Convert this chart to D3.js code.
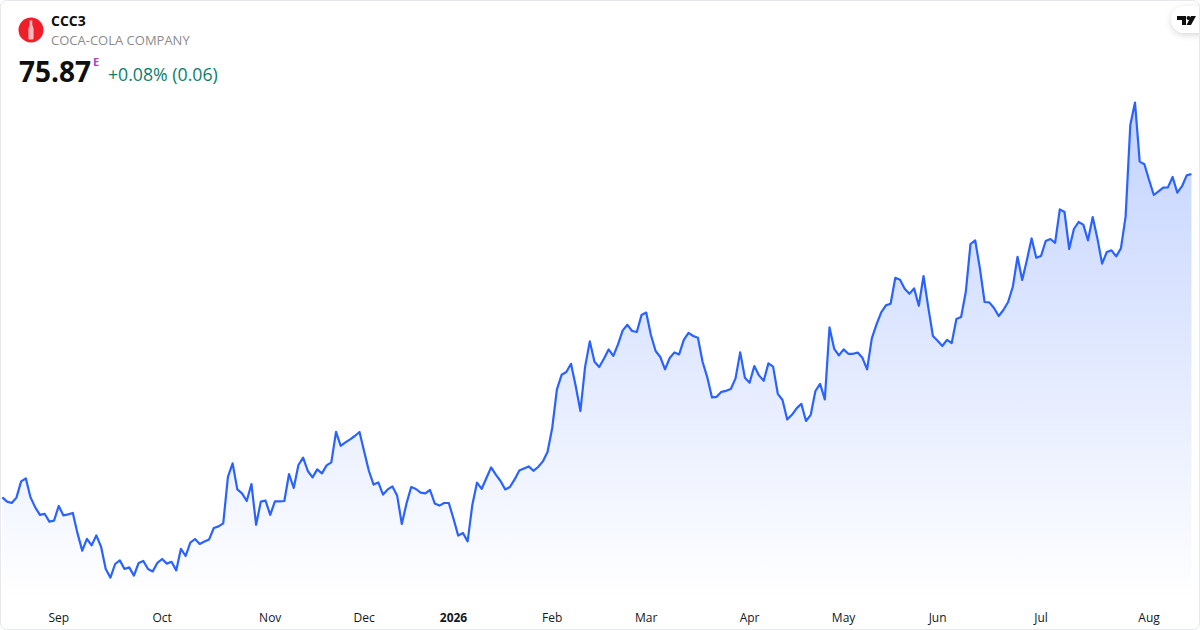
<!DOCTYPE html>
<html>
<head>
<meta charset="utf-8">
<style>
html, body { margin: 0; padding: 0; background: #fff; }
svg { display: block; }
text { font-family: "Open Sans", "Noto Sans", sans-serif; }
</style>
<script src="https://cdn.jsdelivr.net/npm/d3@7"></script>
</head>
<body>
<div id="chart"></div>
<script>
// closing prices, one per session
var prices = [
  59.7, 59.49, 59.42, 59.69, 60.5, 60.65, 59.7, 59.2, 58.83, 58.88, 58.49, 58.54, 59.27, 58.8, 58.85, 58.92,
  57.9, 57.04, 57.63, 57.3, 57.8, 57.24, 56.12, 55.69, 56.37, 56.55, 56.12, 56.2, 55.79, 56.42, 56.52, 56.12,
  56.0, 56.43, 56.62, 56.39, 56.48, 56.05, 57.13, 56.77, 57.44, 57.62, 57.37, 57.49, 57.6, 58.17, 58.25, 58.4,
  60.73, 61.4, 60.1, 59.9, 59.52, 60.37, 58.33, 59.49, 59.54, 58.83, 59.5, 59.5, 59.52, 60.87, 60.17, 61.32,
  61.69, 61.02, 60.7, 61.1, 60.9, 61.3, 61.45, 62.98, 62.28, 62.45, 62.6, 62.77, 62.97, 61.98, 61.02, 60.34,
  60.45, 59.84, 60.1, 60.25, 59.8, 58.37, 59.4, 60.22, 60.12, 59.94, 59.9, 60.07, 59.4, 59.29, 59.42, 59.42,
  58.63, 57.79, 57.92, 57.5, 59.32, 60.44, 60.13, 60.67, 61.2, 60.84, 60.52, 60.1, 60.22, 60.6, 61.05, 61.15,
  61.25, 61.03, 61.22, 61.5, 61.97, 63.17, 65.1, 65.83, 65.97, 66.38, 65.27, 64.02, 66.24, 67.5, 66.48, 66.22,
  66.63, 67.1, 66.78, 67.35, 68.05, 68.33, 68.02, 67.97, 68.82, 68.94, 67.82, 67.02, 66.72, 66.1, 66.67, 66.95,
  66.85, 67.58, 67.93, 67.77, 67.68, 66.47, 65.7, 64.7, 64.73, 64.98, 65.03, 65.12, 65.65, 66.95, 65.68, 65.43,
  66.27, 65.8, 65.53, 66.4, 66.24, 64.88, 64.57, 63.6, 63.83, 64.15, 64.38, 63.52, 63.83, 65.02, 65.38, 64.6,
  68.2, 67.13, 66.8, 67.1, 66.88, 66.88, 66.94, 66.68, 66.1, 67.65, 68.35, 68.95, 69.3, 69.38, 70.68, 70.58,
  70.13, 69.88, 70.15, 69.28, 70.77, 69.23, 67.77, 67.53, 67.27, 67.58, 67.42, 68.62, 68.72, 69.98, 72.37, 72.55,
  71.15, 69.47, 69.45, 69.17, 68.77, 69.07, 69.47, 70.23, 71.73, 70.57, 71.57, 72.65, 71.68, 71.77, 72.52, 72.62,
  72.43, 74.1, 73.97, 72.12, 73.12, 73.47, 73.34, 72.55, 73.72, 72.65, 71.39, 71.97, 72.05, 71.75, 72.15, 73.74,
  78.32, 79.44, 76.49, 76.36, 75.57, 74.82, 75.0, 75.19, 75.2, 75.72, 74.94, 75.26, 75.8, 75.87
];

// axis labels and the session each one sits on
var tickLabels = ["Sep", "Oct", "Nov", "Dec", "2026", "Feb", "Mar", "Apr", "May", "Jun", "Jul", "Aug"];
var tickSessions = [12, 34, 57, 77, 96, 117, 137, 159, 179, 199, 221, 244];

var width = 1200;
var height = 630;

var svg = d3.select("#chart").append("svg")
  .attr("width", width)
  .attr("height", height);

var x = d3.scaleLinear().domain([0, prices.length - 1]).range([2.33, 1191.4]);
var y = d3.scaleLinear().domain([55.67, 75.87]).range([578, 174]);

var defs = svg.append("defs");

var grad = defs.append("linearGradient")
  .attr("id", "fillGrad")
  .attr("gradientUnits", "userSpaceOnUse")
  .attr("x1", 0).attr("x2", 0)
  .attr("y1", y(d3.max(prices))).attr("y2", 600);
grad.append("stop").attr("offset", 0).attr("stop-color", "#2962ff").attr("stop-opacity", 0.28);
grad.append("stop").attr("offset", 1).attr("stop-color", "#2962ff").attr("stop-opacity", 0);

var shadow = defs.append("filter")
  .attr("id", "pillShadow")
  .attr("x", "-40%").attr("y", "-40%").attr("width", "180%").attr("height", "180%");
shadow.append("feDropShadow")
  .attr("dx", 0).attr("dy", 2).attr("stdDeviation", 3)
  .attr("flood-color", "#131722").attr("flood-opacity", 0.16);

var clip = defs.append("clipPath").attr("id", "cardClip");
clip.append("rect").attr("x", 0.5).attr("y", 0.5).attr("width", 1199).attr("height", 629).attr("rx", 6);

// area and line
var area = d3.area()
  .x(function(d, i) { return x(i); })
  .y0(600)
  .y1(function(d) { return y(d); });

var line = d3.line()
  .x(function(d, i) { return x(i); })
  .y(function(d) { return y(d); });

svg.append("path")
  .datum(prices)
  .attr("d", area)
  .attr("fill", "url(#fillGrad)");

svg.append("path")
  .datum(prices)
  .attr("d", line)
  .attr("fill", "none")
  .attr("stroke", "#2962ff")
  .attr("stroke-width", 2.2)
  .attr("stroke-linejoin", "round");

// month labels
svg.append("g")
  .selectAll("text")
  .data(tickLabels)
  .enter()
  .append("text")
  .attr("x", function(d, i) { return x(tickSessions[i]); })
  .attr("y", 622)
  .attr("text-anchor", "middle")
  .attr("font-size", 12)
  .attr("font-weight", function(d) { return d === "2026" ? 700 : 400; })
  .attr("fill", "#131722")
  .text(function(d) { return d; });

// header
var logo = svg.append("g").attr("transform", "translate(31,30)");
logo.append("circle").attr("r", 12.5).attr("fill", "#f01e28");
logo.append("path")
  .attr("d", "M-1.3,-9.5 L1.3,-9.5 L1.3,-5.5 C1.3,-3.8 2.6,-2.8 2.6,-0.8 L2.6,8 C2.6,9 2,9.5 1.3,9.5 L-1.3,9.5 C-2,9.5 -2.6,9 -2.6,8 L-2.6,-0.8 C-2.6,-2.8 -1.3,-3.8 -1.3,-5.5 Z")
  .attr("fill", "#f9b9bc");

svg.append("text").attr("x", 51).attr("y", 26)
  .attr("font-size", 14).attr("font-weight", 700).attr("fill", "#0f0f0f")
  .text("CCC3");
svg.append("text").attr("x", 51).attr("y", 45)
  .attr("font-size", 13).attr("fill", "#8c8c8c")
  .text("COCA-COLA COMPANY");
svg.append("text").attr("x", 19).attr("y", 82)
  .attr("font-size", 28).attr("font-weight", 700).attr("fill", "#0f0f0f")
  .text("75.87");
svg.append("text").attr("x", 93).attr("y", 66)
  .attr("font-size", 11).attr("font-weight", 700).attr("fill", "#ab47bc")
  .text("E");
svg.append("text").attr("x", 108).attr("y", 81)
  .attr("font-size", 17.7).attr("fill", "#0a806c")
  .text("+0.08% (0.06)");

// TradingView badge in the corner
var badge = svg.append("g").attr("clip-path", "url(#cardClip)");
badge.append("rect")
  .attr("x", 1171).attr("y", 6).attr("width", 50).attr("height", 27).attr("rx", 13.5)
  .attr("fill", "#fff")
  .attr("filter", "url(#pillShadow)");
badge.append("path")
  .attr("d", "M1177,16 L1186,16 L1186,25 L1182,25 L1182,20 L1177,20 Z M1191,16 L1196,16 L1191,25 L1186.5,25 Z")
  .attr("fill", "#0f0f0f");
badge.append("circle").attr("cx", 1188.5).attr("cy", 18).attr("r", 2).attr("fill", "#0f0f0f");

// card outline
svg.append("rect")
  .attr("x", 0.5).attr("y", 0.5).attr("width", 1199).attr("height", 629).attr("rx", 6)
  .attr("fill", "none")
  .attr("stroke", "#e6e8ee");
</script>
</body>
</html>
